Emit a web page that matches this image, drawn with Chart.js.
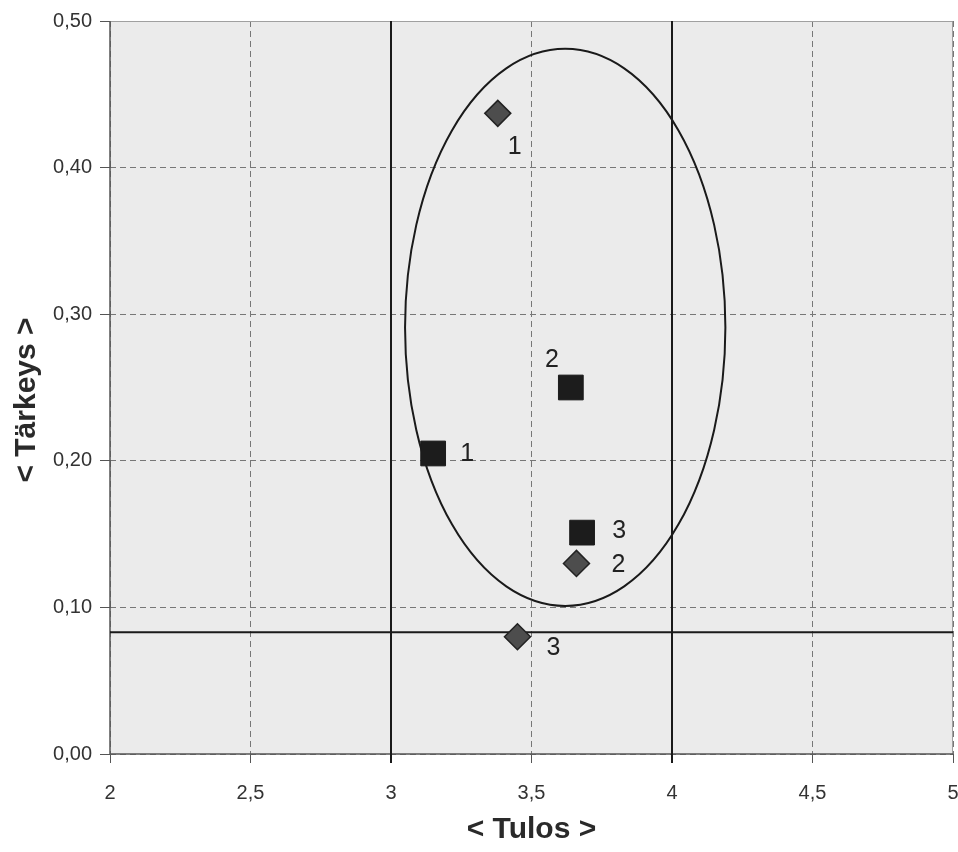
<!DOCTYPE html>
<html>
<head>
    <meta charset="utf-8">
    <title>Tulos / Tärkeys</title>
    <script src="https://cdn.jsdelivr.net/npm/chart.js"></script>
    <style>
        html, body { margin: 0; padding: 0; background: #ffffff; overflow: hidden; }
        canvas { display: block; }
    </style>
</head>
<body>
<canvas id="chart" width="958" height="852"></canvas>
<script>
    // data
    var diamondX = [3.38, 3.66, 3.45];
    var diamondY = [0.437, 0.130, 0.080];
    var diamondLabels = ['1', '2', '3'];
    var squareX = [3.15, 3.64, 3.68];
    var squareY = [0.205, 0.250, 0.151];
    var squareLabels = ['1', '2', '3'];
    var refLinesX = [3, 4];
    var refLineY = [0.083];
    var ellipse = [3.62, 0.291, 0.57, 0.19]; // cx, cy, rx, ry

    // label placement (pixel offsets from the marker)
    var diamondLabelOffsets = [[17, 34], [42, 2], [36, 11]];
    var squareLabelOffsets = [[34, 1], [-19, -27], [37, -2]];

    function toPoints(xs, ys) {
        return xs.map(function (x, i) { return { x: x, y: ys[i] }; });
    }

    var overlay = {
        id: 'overlay',
        beforeDatasetsDraw: function (chart) {
            var ctx = chart.ctx, a = chart.chartArea;
            var sx = chart.scales.x, sy = chart.scales.y;
            ctx.save();
            // light frame on top/right
            ctx.strokeStyle = '#a0a0a0';
            ctx.lineWidth = 1;
            ctx.beginPath();
            ctx.moveTo(a.left, a.top + 0.5);
            ctx.lineTo(a.right - 0.5, a.top + 0.5);
            ctx.lineTo(a.right - 0.5, a.bottom);
            ctx.stroke();
            // solid axis lines left / bottom
            ctx.strokeStyle = '#555555';
            ctx.lineWidth = 1.5;
            ctx.beginPath();
            ctx.moveTo(a.left, a.top);
            ctx.lineTo(a.left, a.bottom);
            ctx.lineTo(a.right, a.bottom);
            ctx.stroke();
            // solid reference lines
            ctx.strokeStyle = '#1a1a1a';
            ctx.lineWidth = 2;
            refLinesX.forEach(function (v) {
                var px = sx.getPixelForValue(v);
                ctx.beginPath();
                ctx.moveTo(px, a.top);
                ctx.lineTo(px, a.bottom + 9);
                ctx.stroke();
            });
            refLineY.forEach(function (v) {
                var py = sy.getPixelForValue(v);
                ctx.beginPath();
                ctx.moveTo(a.left, py);
                ctx.lineTo(a.right, py);
                ctx.stroke();
            });
            // ellipse
            var cx = sx.getPixelForValue(ellipse[0]);
            var cy = sy.getPixelForValue(ellipse[1]);
            var rx = Math.abs(sx.getPixelForValue(ellipse[0] + ellipse[2]) - cx);
            var ry = Math.abs(sy.getPixelForValue(ellipse[1] + ellipse[3]) - cy);
            ctx.beginPath();
            ctx.ellipse(cx, cy, rx, ry, 0, 0, Math.PI * 2);
            ctx.stroke();
            ctx.restore();
        },
        afterDatasetsDraw: function (chart) {
            var ctx = chart.ctx;
            ctx.save();
            ctx.fillStyle = '#222222';
            ctx.font = '25px "Liberation Sans", Arial, sans-serif';
            ctx.textAlign = 'center';
            ctx.textBaseline = 'middle';
            var sets = [[0, diamondLabels, diamondLabelOffsets], [1, squareLabels, squareLabelOffsets]];
            sets.forEach(function (s) {
                var meta = chart.getDatasetMeta(s[0]);
                meta.data.forEach(function (el, i) {
                    ctx.fillText(s[1][i], el.x + s[2][i][0], el.y + s[2][i][1]);
                });
            });
            ctx.restore();
        }
    };

    var plotBg = {
        id: 'plotBg',
        beforeDraw: function (chart) {
            var ctx = chart.ctx, a = chart.chartArea;
            ctx.save();
            ctx.fillStyle = '#ebebeb';
            ctx.fillRect(a.left, a.top, a.right - a.left, a.bottom - a.top);
            ctx.restore();
        }
    };

    var tickFont = { family: '"Liberation Sans", Arial, sans-serif', size: 20 };
    var titleFont = { family: '"Liberation Sans", Arial, sans-serif', size: 30, weight: 'bold' };

    new Chart(document.getElementById('chart').getContext('2d'), {
        type: 'scatter',
        data: {
            datasets: [{
                label: 'Diamonds',
                data: toPoints(diamondX, diamondY),
                pointStyle: 'rectRot',
                pointRadius: 13,
                pointHoverRadius: 13,
                backgroundColor: '#4d4d4d',
                borderColor: '#222222',
                borderWidth: 1.5
            }, {
                label: 'Squares',
                data: toPoints(squareX, squareY),
                pointStyle: 'rect',
                pointRadius: 17.5,
                pointHoverRadius: 17.5,
                backgroundColor: '#1c1c1c',
                borderColor: '#1c1c1c',
                borderWidth: 1
            }]
        },
        plugins: [plotBg, overlay],
        options: {
            responsive: false,
            animation: false,
            layout: { autoPadding: false, padding: { top: 21, right: 5, left: 0, bottom: 0 } },
            plugins: {
                legend: { display: false },
                tooltip: { enabled: false }
            },
            scales: {
                x: {
                    type: 'linear',
                    min: 2, max: 5,
                    afterFit: function (s) {
                        s.height = 98;
                        s.paddingLeft = 0;
                        s.paddingRight = 0;
                    },
                    ticks: {
                        stepSize: 0.5,
                        color: '#333333',
                        font: tickFont,
                        padding: 18,
                        callback: function (v) { return String(v).replace('.', ','); }
                    },
                    grid: {
                        color: '#777777',
                        lineWidth: 1,
                        tickLength: 9,
                        tickColor: '#555555',
                        tickBorderDash: []
                    },
                    border: { display: false, dash: [6, 4] },
                    title: {
                        display: true,
                        text: '< Tulos >',
                        color: '#2a2a2a',
                        font: titleFont,
                        padding: { top: 4, bottom: 4 }
                    }
                },
                y: {
                    type: 'linear',
                    min: 0, max: 0.5,
                    afterFit: function (s) {
                        s.width = 110;
                        s.paddingTop = 0;
                        s.paddingBottom = 0;
                    },
                    ticks: {
                        stepSize: 0.1,
                        color: '#333333',
                        font: tickFont,
                        padding: 8,
                        callback: function (v) { return v.toFixed(2).replace('.', ','); }
                    },
                    grid: {
                        color: '#777777',
                        lineWidth: 1,
                        tickLength: 10,
                        tickColor: '#555555',
                        tickBorderDash: []
                    },
                    border: { display: false, dash: [6, 4] },
                    title: {
                        display: true,
                        text: '< Tärkeys >\u00a0\u00a0\u00a0',
                        color: '#2a2a2a',
                        font: titleFont,
                        padding: { top: 9, bottom: 4 }
                    }
                }
            }
        }
    });
</script>
</body>
</html>
